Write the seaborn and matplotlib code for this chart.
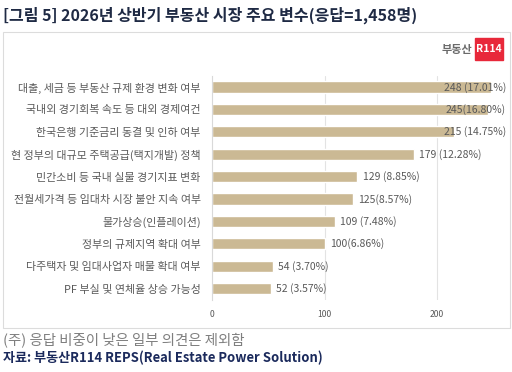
import matplotlib
matplotlib.use("Agg")
import matplotlib.pyplot as plt
import pandas as pd
import seaborn as sns
from matplotlib.patches import Rectangle

# survey answers (count, share)
labels = [
    "대출, 세금 등 부동산 규제 환경 변화 여부",
    "국내외 경기회복 속도 등 대외 경제여건",
    "한국은행 기준금리 동결 및 인하 여부",
    "현 정부의 대규모 주택공급(택지개발) 정책",
    "민간소비 등 국내 실물 경기지표 변화",
    "전월세가격 등 임대차 시장 불안 지속 여부",
    "물가상승(인플레이션)",
    "정부의 규제지역 확대 여부",
    "다주택자 및 임대사업자 매물 확대 여부",
    "PF 부실 및 연체율 상승 가능성",
]
counts = [248, 245, 215, 179, 129, 125, 109, 100, 54, 52]
value_text = ["248 (17.01%)", "245(16.80%)", "215 (14.75%)", "179 (12.28%)",
              "129 (8.85%)", "125(8.57%)", "109 (7.48%)", "100(6.86%)",
              "54 (3.70%)", "52 (3.57%)"]
xticks = [0, 100, 200]

df = pd.DataFrame({"label": labels, "count": counts})

sns.set_style("white")
plt.rcParams["font.family"] = ["Noto Sans CJK KR", "DejaVu Sans"]

fig = plt.figure(figsize=(5.12, 3.72), dpi=100)
ax = fig.add_axes([0.414, 0.194, 0.572, 0.602])

bar_col = "#cbb994"
grey = "#595959"
sns.barplot(data=df, y="label", x="count", orient="h", color=bar_col,
            width=0.5, saturation=1, ax=ax)

xmax = 260
ax.set_xlim(0, xmax)
ax.set_ylim(9.5, -0.5)
ax.set_xticks(xticks)
ax.set_xticklabels([str(t) for t in xticks], fontsize=6.2, color=grey)
ax.tick_params(axis="x", length=0, pad=7)
ax.tick_params(axis="y", length=0, pad=8, labelsize=7.9, labelcolor=grey)
ax.set_xlabel("")
ax.set_ylabel("")
for t in xticks[1:]:
    ax.axvline(t, color="#e3e3e3", lw=0.8, zorder=0)
for s in ["top", "right", "bottom"]:
    ax.spines[s].set_visible(False)
ax.spines["left"].set_color("#d9d9d9")
ax.spines["left"].set_linewidth(0.8)

for i, (v, txt) in enumerate(zip(counts, value_text)):
    if v > 200:
        ax.text(xmax + 1, i, txt, ha="right", va="center", fontsize=7.5,
                color=grey, clip_on=False)
    else:
        ax.text(v + 5, i, txt, ha="left", va="center", fontsize=7.5, color=grey)

# chart frame
fig.patches.append(Rectangle((3 / 512, 1 - 328 / 372), 507 / 512, 296 / 372,
                             transform=fig.transFigure, fill=False,
                             edgecolor="#dcdcdc", lw=0.8))

# title and notes
fig.text(3 / 512, 1 - 15 / 372, "[그림 5] 2026년 상반기 부동산 시장 주요 변수(응답=1,458명)",
         fontsize=11.5, fontweight="bold", color="#1f2a44", va="center")
fig.text(3 / 512, 1 - 340 / 372, "(주) 응답 비중이 낮은 일부 의견은 제외함",
         fontsize=10.4, color="#7f7f7f", va="center")
fig.text(3 / 512, 1 - 358 / 372, "자료: 부동산R114 REPS(Real Estate Power Solution)",
         fontsize=9.4, fontweight="bold", color="#1b2a5c", va="center")

# logo
fig.text(472 / 512, 1 - 50 / 372, "부동산", fontsize=8, fontweight="bold",
         color="#6b6b6b", ha="right", va="center")
fig.patches.append(Rectangle((475 / 512, 1 - 60 / 372), 28 / 512, 22 / 372,
                             transform=fig.transFigure, color="#e8283a"))
fig.text(489 / 512, 1 - 49.5 / 372, "R114", fontsize=7.5, fontweight="bold",
         color="white", ha="center", va="center")

fig.savefig("out.png", dpi=100)
